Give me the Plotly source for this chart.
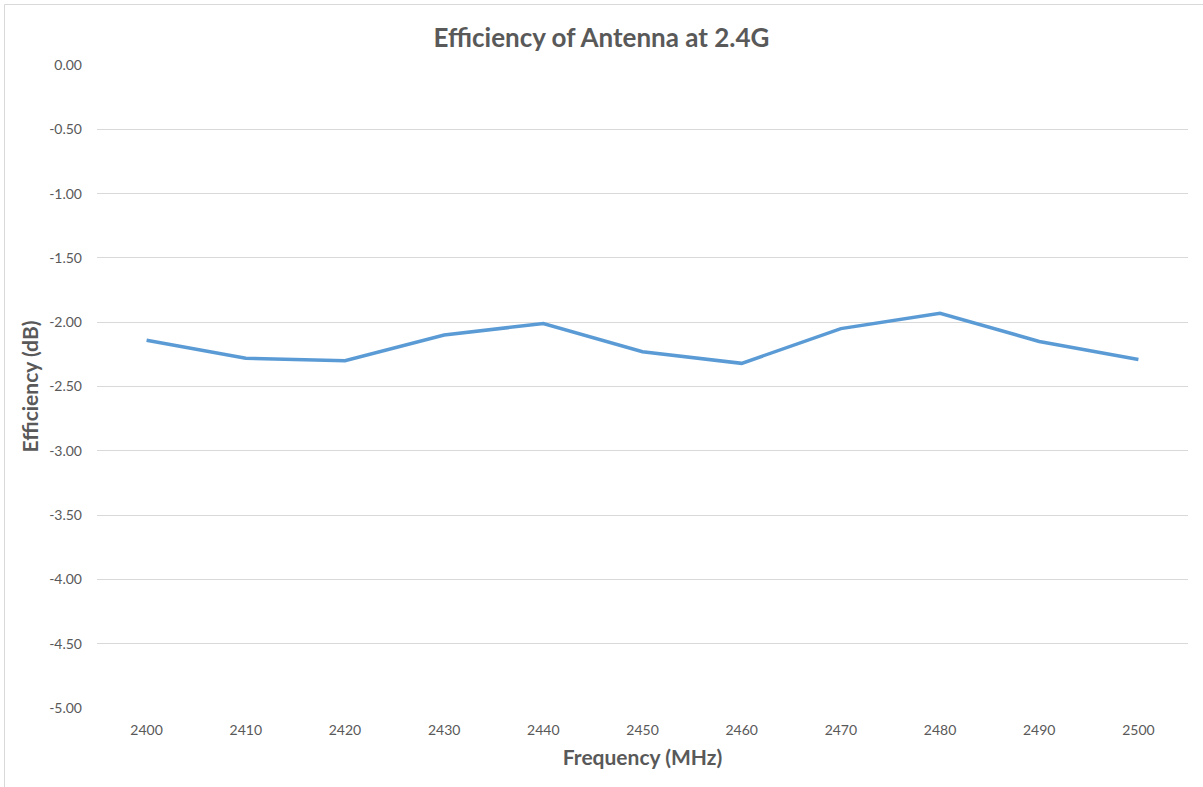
import plotly.graph_objects as go

frequencies = [2400, 2410, 2420, 2430, 2440, 2450, 2460, 2470, 2480, 2490, 2500]
efficiency_db = [-2.14, -2.28, -2.30, -2.10, -2.01, -2.23, -2.32, -2.05, -1.93, -2.15, -2.29]
y_ticks = [0.0, -0.5, -1.0, -1.5, -2.0, -2.5, -3.0, -3.5, -4.0, -4.5, -5.0]

W, H = 1203, 787
L, R, T, B = 97, 15, 65, 79
pw, ph = W - L - R, H - T - B

fig = go.Figure()
fig.add_trace(go.Scatter(
    x=frequencies, y=efficiency_db, mode="lines",
    line=dict(color="#5B9BD5", width=3.5),
    showlegend=False, hoverinfo="x+y",
))

font_family = "Lato, 'Open Sans', sans-serif"
fig.update_layout(
    width=W, height=H,
    margin=dict(l=L, r=R, t=T, b=B),
    paper_bgcolor="white", plot_bgcolor="white",
    title=dict(text="<b>Efficiency of Antenna at 2.4G</b>", x=0.5, xanchor="center",
               y=1 - 38 / H, yanchor="middle",
               font=dict(family=font_family, size=26, color="#595959")),
    xaxis=dict(
        range=[2395, 2505], tickmode="array", tickvals=frequencies,
        ticktext=[str(f) for f in frequencies],
        showgrid=False, zeroline=False, showline=False, ticks="",
        ticklabelstandoff=12,
        tickfont=dict(family=font_family, size=14, color="#595959"),
        title=dict(text="<b>Frequency (MHz)</b>", standoff=13,
                   font=dict(family=font_family, size=21, color="#595959")),
        fixedrange=True,
    ),
    yaxis=dict(
        range=[-5, 0], tickmode="array", tickvals=y_ticks,
        ticktext=[f"{v:.2f}" for v in y_ticks],
        showgrid=True, gridcolor="#D9D9D9", gridwidth=1,
        zeroline=False, showline=False, ticks="",
        ticklabelstandoff=14,
        tickfont=dict(family=font_family, size=14, color="#595959"),
        title=dict(text="<b>Efficiency (dB)</b>", standoff=4,
                   font=dict(family=font_family, size=21, color="#595959")),
        fixedrange=True,
    ),
)

fig.add_shape(type="rect", xref="paper", yref="paper",
              x0=(4.5 - L) / pw, x1=(1215 - L) / pw,
              y0=(H - B - 800) / ph, y1=(H - B - 4.5) / ph,
              line=dict(color="#D9D9D9", width=1), fillcolor="rgba(0,0,0,0)",
              layer="below")

fig.write_html("out.html",
               config={"displayModeBar": False},
               post_script="document.body.style.margin='0';document.body.style.overflow='hidden';")
